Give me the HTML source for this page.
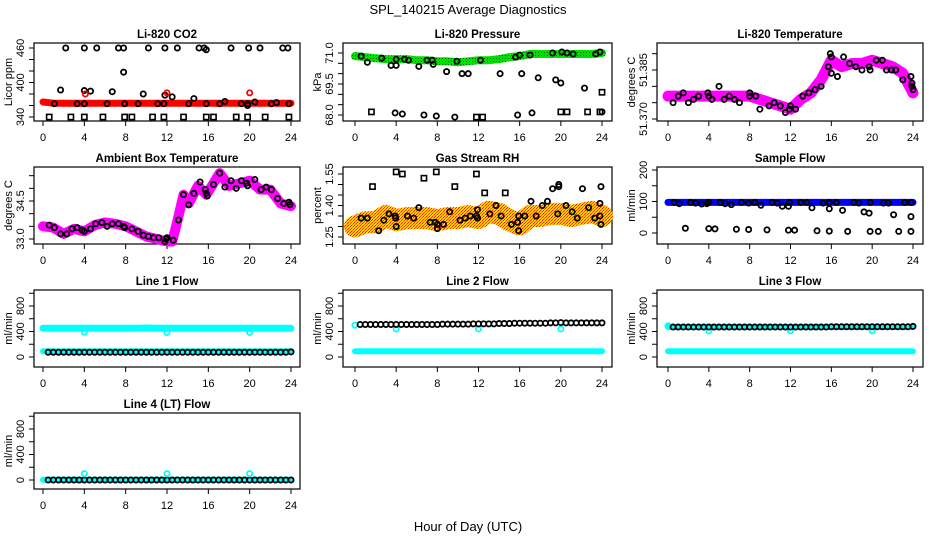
<!DOCTYPE html>
<html><head><meta charset="utf-8"><style>
html,body{margin:0;padding:0;background:#fff;}
svg{display:block;font-family:"Liberation Sans",Arial,sans-serif;}
</style></head><body>
<svg id="chart" width="936" height="540" viewBox="0 0 936 540" xmlns="http://www.w3.org/2000/svg">
<defs>
<pattern id="greenDots" width="3" height="3" patternUnits="userSpaceOnUse"><rect width="3" height="3" fill="#00e000"/><rect x="1" y="1" width="1" height="1" fill="#006000"/></pattern>
<pattern id="rhCheck" width="3" height="3" patternUnits="userSpaceOnUse"><rect width="3" height="3" fill="#ffd000"/><rect x="0" y="0" width="1" height="1" fill="#ff2000"/><rect x="2" y="1" width="1" height="1" fill="#ff2000"/><rect x="1" y="2" width="1" height="1" fill="#ff6000"/></pattern>
</defs>
<text x="468" y="14" font-size="13" text-anchor="middle">SPL_140215  Average Diagnostics</text>
<text x="468" y="531" font-size="13" text-anchor="middle">Hour of Day (UTC)</text>
</svg>
<script>
const hourGrid=[0,1,2,3,4,5,6,7,8,9,10,11,12,13,14,15,16,17,18,19,20,21,22,23,24];
const rowHours=[0.5,1,1.5,2,2.5,3,3.5,4,4.5,5,5.5,6,6.5,7,7.5,8,8.5,9,9.5,10,10.5,11,11.5,12,12.5,13,13.5,14,14.5,15,15.5,16,16.5,17,17.5,18,18.5,19,19.5,20,20.5,21,21.5,22,22.5,23,23.5,24];
const xTickLabels=[0,4,8,12,16,20,24];

// CO2
const co2Band=[366,364,364,364,364,364,364,364,364,364,364,364,364,364,364,364,364,364,364,364,364,364,364,364,364];
const co2Hours=[2.2,4,5.2,7.3,7.8,10.2,11.8,13,15.1,15.6,15.8,18.2,19.9,21,23.2,23.7,1.1,3.3,4,6.2,7.9,9.2,11.1,11.7,14.1,15.8,17.1,19.2,19.8,22.1,1.7,4,4.6,6.7,7.8,9.7,11.8,12.5,14.6,17.6,20.5,22.6,23.8,19.8];
const co2Values=[460,460,460,460,460,460,460,460,460,460,457,460,460,460,460,460,363,363,363,363,363,363,363,363,363,363,363,363,363,363,387,386,385,384,418,380,378,375,372,367,366,365,363,360];
const co2SqHours=[0.6,2.7,4,5.8,7.9,8.6,10.6,11.7,13.6,15.8,16.5,18.7,19.8,21.5,23.8];
const co2SqValues=[340,340,340,340,340,340,340,340,340,340,340,340,340,340,340];
const co2RedHours=[4.1,12,20];
const co2RedValues=[380,382,382];

// Pressure
const presBand=[70.85,70.8,70.75,70.7,70.7,70.7,70.65,70.65,70.6,70.6,70.55,70.6,70.65,70.65,70.7,70.8,70.85,70.95,70.95,70.95,70.95,70.95,70.95,70.95,71.0];
const presHours=[0.6,1.2,2.6,3.5,4,4,4.8,5.2,6.2,7,7.5,7.6,8.9,10.4,11,9.9,12.2,14.1,15.6,16,16.2,17,17.8,19.2,19.5,20,20.1,20.6,21.2,22.3,23.4,23.8,3.9,4.6,6.7,7.9,9.7,15.8,17.2,24];
const presValues=[70.85,70.55,70.75,70.4,70.4,70.7,70.7,70.65,70.35,70.65,70.65,70.45,70.1,70.0,70.0,70.6,70.65,70.0,70.8,70.9,70.0,70.9,69.8,71.0,69.7,69.55,71.05,71.0,70.95,69.3,70.95,71.05,68.1,68.05,68.0,67.95,67.9,68.0,68.1,68.15];
const presSqHours=[1.6,11.8,12.4,20,20.6,22.6,23.8,24];
const presSqValues=[68.15,67.9,67.9,68.15,68.15,68.15,68.15,69.1];

// Li-820 temperature
const ltBand=[51.377,51.377,51.377,51.377,51.377,51.377,51.377,51.377,51.377,51.376,51.375,51.374,51.373,51.376,51.378,51.382,51.388,51.386,51.387,51.387,51.388,51.387,51.386,51.384,51.378];
const ltHours=[0.5,1,1.5,2,2.5,3,3.9,4,4.3,5,5.5,6,6.5,7,8,8,8.6,9,9.9,10.4,11,11.5,11.9,12,12.5,13.2,13.8,14.4,15,15.7,15.9,16,16,16.6,17.2,17.8,18.4,19,19.7,19.8,20.4,21,21.4,21.9,22.3,23,23.8,23.9,23.9,24];
const ltValues=[51.375,51.377,51.378,51.375,51.376,51.377,51.378,51.377,51.376,51.380,51.376,51.377,51.376,51.375,51.377,51.378,51.377,51.373,51.374,51.375,51.374,51.372,51.373,51.374,51.373,51.377,51.378,51.379,51.380,51.386,51.390,51.389,51.384,51.383,51.389,51.387,51.386,51.385,51.386,51.385,51.388,51.388,51.385,51.385,51.385,51.382,51.383,51.381,51.380,51.379];

// Ambient box temperature
const abHours=[0,1,2,3,4,5,6,7,8,9,10,11,12,12.5,13,13.6,14.1,15,15.8,16.5,17.1,18,19,20,21,22,23,24];
const abBand=[33.5,33.45,33.2,33.4,33.3,33.55,33.65,33.6,33.5,33.3,33.1,33.0,32.9,32.9,33.7,34.75,34.4,35.1,34.75,35.2,35.6,35.1,35.2,35.3,34.95,34.95,34.4,34.3];
const abPtHours=[0.6,1.1,1.7,2.3,2.8,3.3,3.8,4,4.6,5.1,5.7,6.2,6.7,7.3,7.8,7.9,8.6,9.2,9.7,10.2,10.7,11.2,11.8,11.9,12,12.6,13.1,13.6,14.1,14.6,15.2,15.7,15.8,15.9,16.5,17.1,17.6,18.2,18.7,19.2,19.7,19.8,20.5,21.1,21.6,22.1,22.7,23.3,23.8,23.9];
const abPtValues=[33.55,33.45,33.2,33.2,33.4,33.45,33.35,33.3,33.4,33.6,33.65,33.5,33.6,33.6,33.5,33.45,33.4,33.3,33.15,33.1,33.05,33.05,32.9,33.0,33.05,32.95,33.75,34.75,34.35,34.8,35.25,34.95,34.8,34.7,35.15,35.6,35.05,35.3,35.0,35.3,35.2,35.1,35.35,34.95,35.05,34.95,34.6,34.4,34.45,34.35];

// Gas stream RH
const rhBand=[1.30,1.32,1.32,1.35,1.33,1.34,1.34,1.34,1.33,1.34,1.34,1.35,1.34,1.37,1.36,1.33,1.31,1.35,1.35,1.36,1.36,1.35,1.36,1.37,1.35];
const rhHours=[0.6,1.2,2.3,2.8,3.3,3.9,3.95,4,5.1,5.7,6.2,7.3,7.8,8,8,8.6,9.2,10.2,10.7,11.2,11.8,11.9,11.9,13.1,13.7,14.2,15.2,15.8,15.9,15.9,16.5,17.1,17.6,18.2,18.7,19.2,19.7,19.8,19.8,20.5,21.1,21.6,22.1,22.7,23.3,23.8,23.8,23.9,23.9];
const rhValues=[1.34,1.34,1.28,1.33,1.36,1.35,1.34,1.30,1.35,1.34,1.39,1.32,1.32,1.31,1.29,1.31,1.37,1.33,1.34,1.35,1.35,1.34,1.38,1.36,1.40,1.35,1.31,1.32,1.35,1.28,1.35,1.42,1.35,1.40,1.42,1.48,1.36,1.50,1.49,1.40,1.37,1.34,1.48,1.39,1.34,1.35,1.41,1.31,1.49];
const rhSqHours=[1.7,4,4.6,6.7,7.9,9.7,11.8,12.6,14.6];
const rhSqValues=[1.49,1.56,1.55,1.53,1.56,1.49,1.55,1.46,1.46];

// Sample flow
const sfBand=[97,97,97,97,97,97,97,97,97,97,97,97,97,97,97,97,97,97,97,97,97,97,97,97,97];
const sfHours=[0.6,1.1,2.2,2.7,3.3,3.8,4,5.1,5.6,6.2,7.2,7.9,8.5,9.1,10.2,10.7,11.2,11.8,11.9,13,13.6,15.2,15.8,16.5,18.2,18.7,19.8,21.1,21.6,23.2,23.8,14.1,15.8,17.1,19.2,19.7,22.1,23.8,1.7,4,4.6,6.7,7.9,9.7,11.8,12.4,14.6,15.8,17.6,19.8,20.6,22.6,23.8];
const sfValues=[97,93,97,95,92,93,97,97,93,90,97,95,97,88,97,95,85,85,97,97,97,95,97,97,97,95,97,95,95,97,97,80,77,72,67,63,58,52,15,14,13,12,11,10,9,9,7,6,5,5,5,5,5];

// Line flows
const l1Upper=[450,450,450,450,450,450,450,450,450,450,455,450,450,450,450,450,450,450,450,450,450,450,450,450,450];
const l1Lower=[90,90,90,90,90,90,90,90,90,90,90,90,90,90,90,90,90,90,90,90,90,90,90,90,90];
const l1Row=[75,75,75,75,75,75,75,75,75,75,75,75,75,75,75,75,75,75,75,75,75,75,75,75,75,75,75,75,75,75,75,75,75,75,75,75,75,75,75,75,75,75,75,75,75,75,75,80];
const l1DipHours=[4,12,20];
const l1DipValues=[390,385,385];
const l2Lower=[90,90,90,90,90,90,90,90,90,90,90,90,90,90,90,90,90,90,90,90,90,90,90,90,90];
const l2Row=[510,510,510,510,510,510,510,510,510,510,510,510,510,510,510,510,515,515,515,515,515,515,520,520,520,520,520,525,525,525,530,530,530,530,530,530,530,535,535,540,535,535,535,535,535,535,535,535];
const l2DipHours=[0,4,12,20];
const l2DipValues=[500,440,440,440];
const l3Upper=[470,470,470,470,470,470,470,470,470,470,470,470,470,470,470,470,470,470,470,470,470,470,470,470,470];
const l3Lower=[90,90,90,90,90,90,90,90,90,90,90,90,90,90,90,90,90,90,90,90,90,90,90,90,90];
const l3Row=[470,470,470,470,470,470,470,470,470,470,470,470,470,470,470,470,470,470,470,470,470,470,470,470,470,470,470,470,470,470,470,475,475,475,475,475,475,475,475,475,475,475,475,475,475,475,475,480];
const l3DipHours=[0,4,12,20];
const l3DipValues=[490,410,410,410];
const l4Lower=[5,5,5,5,5,5,5,5,5,5,5,5,5,5,5,5,5,5,5,5,5,5,5,5,5];
const l4Row=[0,0,0,0,0,0,0,0,0,0,0,0,0,0,0,0,0,0,0,0,0,0,0,0,0,0,0,0,0,0,0,0,0,0,0,0,0,0,0,0,0,0,0,0,0,0,0,0];
const l4DipHours=[4,12,20];
const l4DipValues=[100,100,100];

const lineTicks=[0,200,400,600,800,1000];
const lineTickLabels=["0","400","800"];

const svg=document.getElementById('chart');
const NS='http://www.w3.org/2000/svg';
function mk(tag,nm,attrs,parent){
  const el=document.createElementNS(NS,tag);
  
  
  for(const k in attrs) el.setAttribute(k,attrs[k]);
  (parent||svg).appendChild(el);
  return el;
}
const cols=[{bl:34,br:300,h0:43,h24:291},{bl:343,br:612,h0:355,h24:602},{bl:657,br:923,h0:668,h24:913}];
const rowsT=[43,167,290,413], rowsB=[121,244,367,489];

function panel(id,r,c,title,ylab,vA,pA,vB,pB,ticks,labels){
  const C=cols[c];
  const g=mk('g',id+'-panel',{});
  const xs=h=>C.h0+(h/24)*(C.h24-C.h0);
  const ys=v=>pA+(v-vA)*(pB-pA)/(vB-vA);
  mk('rect',id+'-plot-frame',{x:C.bl,y:rowsT[r],width:C.br-C.bl,height:rowsB[r]-rowsT[r],fill:'none',stroke:'#000','stroke-width':1.2},g);
  const t=mk('text',id+'-title',{x:(C.bl+C.br)/2,y:rowsT[r]-5,'font-size':11.5,'font-weight':'bold','text-anchor':'middle'},g);
  t.textContent=title;
  // x axis
  const xb=rowsB[r];
  mk('line',id+'-x-axis-line',{x1:xs(0),x2:xs(24),y1:xb,y2:xb,stroke:'#000'},g);
  xTickLabels.forEach(h=>{
    mk('line',id+'-x-tick',{x1:xs(h),x2:xs(h),y1:xb,y2:xb+5,stroke:'#000'},g);
    const tl=mk('text',id+'-x-tick-label',{x:xs(h),y:xb+20,'font-size':11,'text-anchor':'middle'},g);
    tl.textContent=h;
  });
  // y axis
  const xl=C.bl;
  ticks.forEach(v=>{
    mk('line',id+'-y-tick',{x1:xl,x2:xl-5,y1:ys(v),y2:ys(v),stroke:'#000'},g);
  });
  labels.forEach(s=>{
    const v=parseFloat(s);
    const yl=mk('text',id+'-y-tick-label',{x:0,y:0,'font-size':11,'text-anchor':'middle',transform:`translate(${xl-10},${ys(v)}) rotate(-90)`},g);
    yl.textContent=s;
  });
  const yt=mk('text',id+'-y-axis-title',{x:0,y:0,'font-size':11,'text-anchor':'middle',transform:`translate(${xl-22},${(rowsT[r]+rowsB[r])/2}) rotate(-90)`},g);
  yt.textContent=ylab;
  return {g,xs,ys};
}
function band(P,nm,hours,vals,color,w){
  const pts=hours.map((h,i)=>P.xs(h).toFixed(1)+','+P.ys(vals[i]).toFixed(1)).join(' ');
  mk('polyline',nm,{points:pts,fill:'none',stroke:color,'stroke-width':w,'stroke-linejoin':'round','stroke-linecap':'round'},P.g);
}
function circles(P,nm,hours,vals,color){
  hours.forEach((h,i)=>{
    mk('circle',nm,{cx:P.xs(h),cy:P.ys(vals[i]),r:2.6,fill:'none',stroke:color,'stroke-width':1.8},P.g);
  });
}
function squares(P,nm,hours,vals,color){
  hours.forEach((h,i)=>{
    mk('rect',nm,{x:P.xs(h)-2.6,y:P.ys(vals[i])-2.6,width:5.2,height:5.2,fill:'none',stroke:color,'stroke-width':1.6},P.g);
  });
}

let P;
P=panel('co2',0,0,'Li-820 CO2','Licor ppm',340,117,460,48,[340,360,380,400,420,440,460],['340','400','460']);
band(P,'co2-band',hourGrid,co2Band,'#ff0000',7);
circles(P,'co2-point',co2Hours,co2Values,'#000');
squares(P,'co2-square',co2SqHours,co2SqValues,'#000');
circles(P,'co2-red-point',co2RedHours,co2RedValues,'#ff0000');

P=panel('pressure',0,1,'Li-820 Pressure','kPa',68,115,71,53,[68,68.5,69,69.5,70,70.5,71],['68.0','69.5','71.0']);
band(P,'pressure-band',hourGrid,presBand,'url(#greenDots)',8);
circles(P,'pressure-point',presHours,presValues,'#000');
squares(P,'pressure-square',presSqHours,presSqValues,'#000');

P=panel('li-temp',0,2,'Li-820 Temperature','degrees C',51.370,119,51.385,70,[51.370,51.375,51.380,51.385,51.390],['51.370','51.385']);
band(P,'li-temp-band',hourGrid,ltBand,'#ff00ff',11);
circles(P,'li-temp-point',ltHours,ltValues,'#000');

P=panel('ambient',1,0,'Ambient Box Temperature','degrees C',33.0,239,34.5,201,[33.0,33.5,34.0,34.5,35.0,35.5],['33.0','34.5']);
band(P,'ambient-band',abHours,abBand,'#ff00ff',10);
circles(P,'ambient-point',abPtHours,abPtValues,'#000');

P=panel('rh',1,1,'Gas Stream RH','percent',1.25,237,1.55,174,[1.25,1.30,1.35,1.40,1.45,1.50,1.55],['1.25','1.40','1.55']);
band(P,'rh-band',hourGrid,rhBand,'url(#rhCheck)',22);
circles(P,'rh-point',rhHours,rhValues,'#000');
squares(P,'rh-square',rhSqHours,rhSqValues,'#000');

P=panel('sample-flow',1,2,'Sample Flow','ml/min',0,233,200,170,[0,50,100,150,200],['0','100','200']);
band(P,'sample-flow-band',hourGrid,sfBand,'#0000ff',7);
circles(P,'sample-flow-point',sfHours,sfValues,'#000');

P=panel('line1',2,0,'Line 1 Flow','ml/min',0,357,800,306,lineTicks,lineTickLabels);
band(P,'line1-upper-band',hourGrid,l1Upper,'#00ffff',7);
band(P,'line1-lower-band',hourGrid,l1Lower,'#00ffff',6);
circles(P,'line1-black-point',rowHours,l1Row,'#000');
circles(P,'line1-cyan-dip',l1DipHours,l1DipValues,'#00ffff');

P=panel('line2',2,1,'Line 2 Flow','ml/min',0,357,800,306,lineTicks,lineTickLabels);
band(P,'line2-lower-band',hourGrid,l2Lower,'#00ffff',6);
circles(P,'line2-cyan-dip',l2DipHours,l2DipValues,'#00ffff');
circles(P,'line2-black-point',rowHours,l2Row,'#000');

P=panel('line3',2,2,'Line 3 Flow','ml/min',0,357,800,306,lineTicks,lineTickLabels);
band(P,'line3-upper-band',hourGrid,l3Upper,'#00ffff',6);
band(P,'line3-lower-band',hourGrid,l3Lower,'#00ffff',6);
circles(P,'line3-cyan-dip',l3DipHours,l3DipValues,'#00ffff');
circles(P,'line3-black-point',rowHours,l3Row,'#000');

P=panel('line4',3,0,'Line 4 (LT) Flow','ml/min',0,480,800,429,lineTicks,lineTickLabels);
band(P,'line4-band',hourGrid,l4Lower,'#00ffff',6);
circles(P,'line4-black-point',rowHours,l4Row,'#000');
circles(P,'line4-cyan-dip',l4DipHours,l4DipValues,'#00ffff');
</script>
</body></html>
